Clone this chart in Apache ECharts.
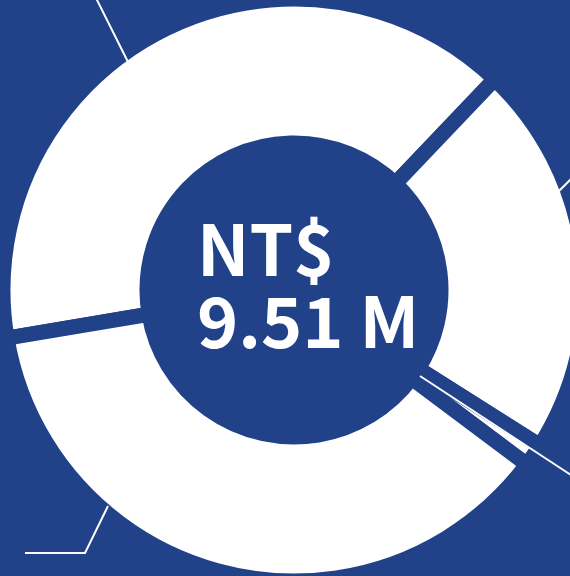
<!DOCTYPE html>
<html>
<head>
<meta charset="utf-8">
<script src="https://cdn.jsdelivr.net/npm/echarts@6/dist/echarts.min.js"></script>
<style>
  html, body { margin: 0; padding: 0; background: #214288; overflow: hidden; }
  #chart { width: 570px; height: 576px; }
</style>
</head>
<body>
<div id="chart"></div>
<script>
// Data (NT$ millions)
const categories = ['A', 'B', 'C', 'D'];
const values = [3.78, 2.08, 0.12, 3.53];
const totalText = ['NT$', '9.51 M'];

const BG = '#214288';
const chart = echarts.init(document.getElementById('chart'), null, { renderer: 'canvas' });

// guide-line routing for the (off-canvas) labels
const guides = [
  [[128, 62], [85, -24], [-60, -24]],
  [[553, 197], [590, 160], [700, 160]],
  [[420, 376], [600, 494], [700, 494]],
  [[108, 506], [85, 553], [25, 553]]
];

const pieData = categories.map((c, i) => ({ name: c, value: values[i] }));
const common = {
  type: 'pie',
  center: [294, 290],
  radius: [147, 291],
  startAngle: 189.5,
  clockwise: true,
  silent: true,
  avoidLabelOverlap: false,
  data: pieData
};

chart.setOption({
  backgroundColor: BG,
  animation: false,
  title: {
    text: totalText.join('\n'),
    left: 197,
    top: 213,
    padding: 0,
    textStyle: {
      color: '#ffffff',
      fontFamily: 'Noto Sans CJK TC',
      fontWeight: 'bold',
      fontSize: 70,
      lineHeight: 72
    }
  },
  series: [
    Object.assign({}, common, {
      z: 2,
      itemStyle: { color: '#ffffff', borderColor: BG, borderWidth: 15 },
      label: { show: false },
      labelLine: { show: false }
    }),
    Object.assign({}, common, {
      z: 5,
      itemStyle: { color: 'rgba(0,0,0,0)', borderWidth: 0 },
      label: { show: true, formatter: () => '', color: '#ffffff' },
      labelLine: { show: true, lineStyle: { color: '#ffffff', width: 2 } },
      labelLayout: function (p) {
        const g = guides[p.dataIndex];
        const last = g[g.length - 1];
        return { x: last[0], y: last[1], labelLinePoints: g };
      }
    })
  ]
});
</script>
</body>
</html>
